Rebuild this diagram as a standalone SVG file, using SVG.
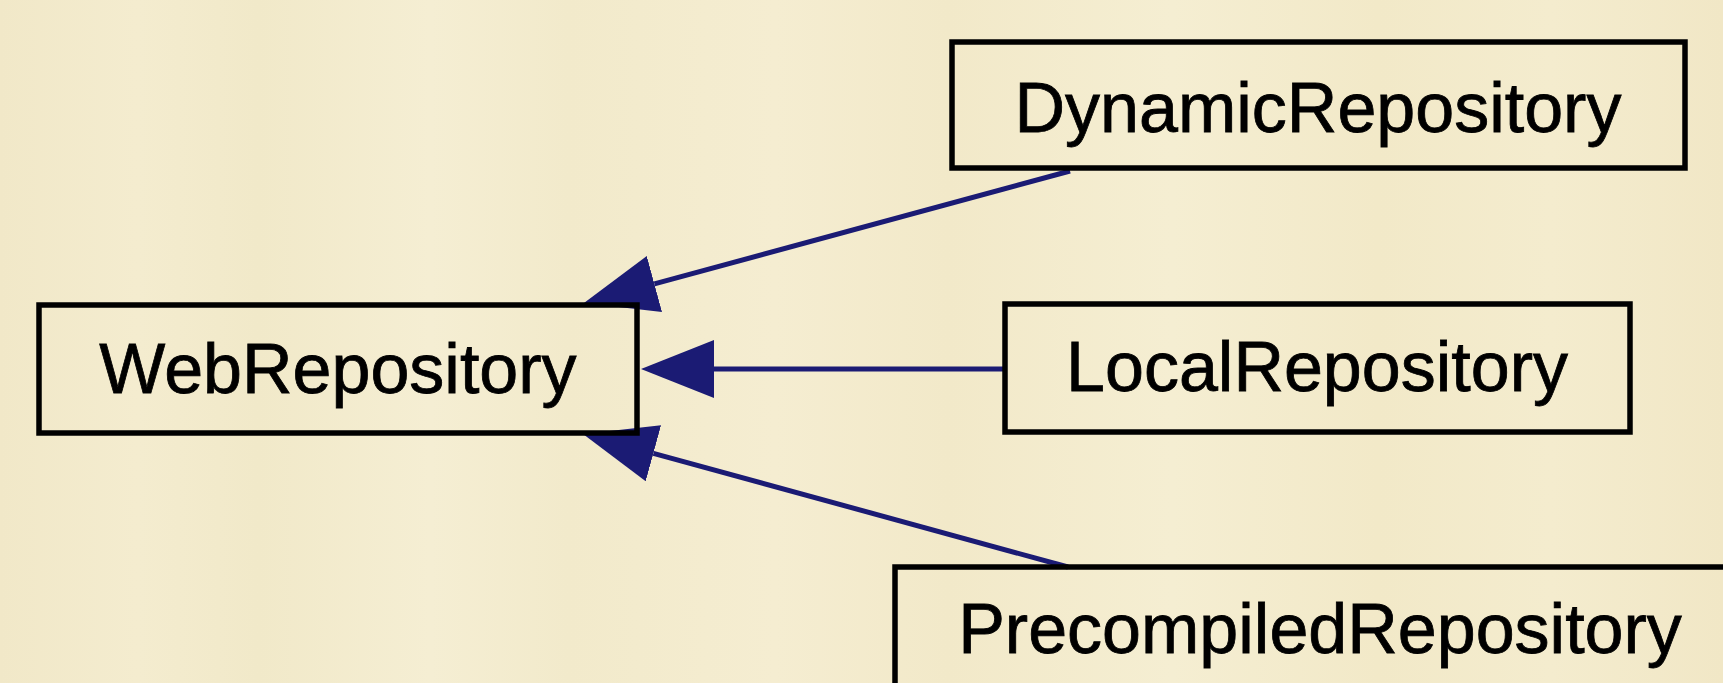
<svg xmlns="http://www.w3.org/2000/svg" width="1723" height="683" viewBox="0 0 1723 683">
  <defs>
    <linearGradient id="paper" x1="0" y1="0" x2="1" y2="0">
      <stop offset="0" stop-color="#F1E8C8"/>
      <stop offset="0.08" stop-color="#F4ECCF"/>
      <stop offset="0.15" stop-color="#F1E9C9"/>
      <stop offset="0.25" stop-color="#F5EED3"/>
      <stop offset="0.33" stop-color="#F2EACB"/>
      <stop offset="0.45" stop-color="#F5EDD1"/>
      <stop offset="0.55" stop-color="#F2E9C9"/>
      <stop offset="0.68" stop-color="#F5EED2"/>
      <stop offset="0.8" stop-color="#F2E9C8"/>
      <stop offset="0.9" stop-color="#F4ECCE"/>
      <stop offset="1" stop-color="#F1E7C6"/>
    </linearGradient>
    <marker id="arrow" markerUnits="userSpaceOnUse" markerWidth="76" markerHeight="60" refX="0" refY="29" orient="auto">
      <path d="M0,0 L73,29 L0,58 Z" fill="#1b1b74"/>
    </marker>
    <style>
      .box { fill: none; stroke: #000; stroke-width: 5.5; }
      .label { font-family: "Liberation Sans", Arial, sans-serif; font-size: 70px; fill: #000; stroke: #000; stroke-width: 0.8; text-anchor: middle; }
      .edge { stroke: #1b1b74; stroke-width: 5; fill: none; marker-end: url(#arrow); }
    </style>
  </defs>
  <rect x="0" y="0" width="1723" height="683" fill="url(#paper)"/>

  <g id="connectors">
    <line class="edge" x1="1070" y1="171" x2="654.4" y2="283.9"/>
    <line class="edge" x1="1005" y1="369" x2="714" y2="369"/>
    <line class="edge" x1="1068" y1="567" x2="653.4" y2="453.3"/>
  </g>

  <g id="WebRepository">
    <rect class="box" x="39" y="305" width="598" height="128"/>
    <text class="label" x="338" y="393">WebRepository</text>
  </g>
  <g id="DynamicRepository">
    <rect class="box" x="952" y="42" width="733" height="126"/>
    <text class="label" x="1318" y="132">DynamicRepository</text>
  </g>
  <g id="LocalRepository">
    <rect class="box" x="1005" y="304" width="625" height="128"/>
    <text class="label" x="1317" y="391">LocalRepository</text>
  </g>
  <g id="PrecompiledRepository">
    <rect class="box" x="895" y="567" width="850" height="128"/>
    <text class="label" x="1320" y="653">PrecompiledRepository</text>
  </g>
</svg>
